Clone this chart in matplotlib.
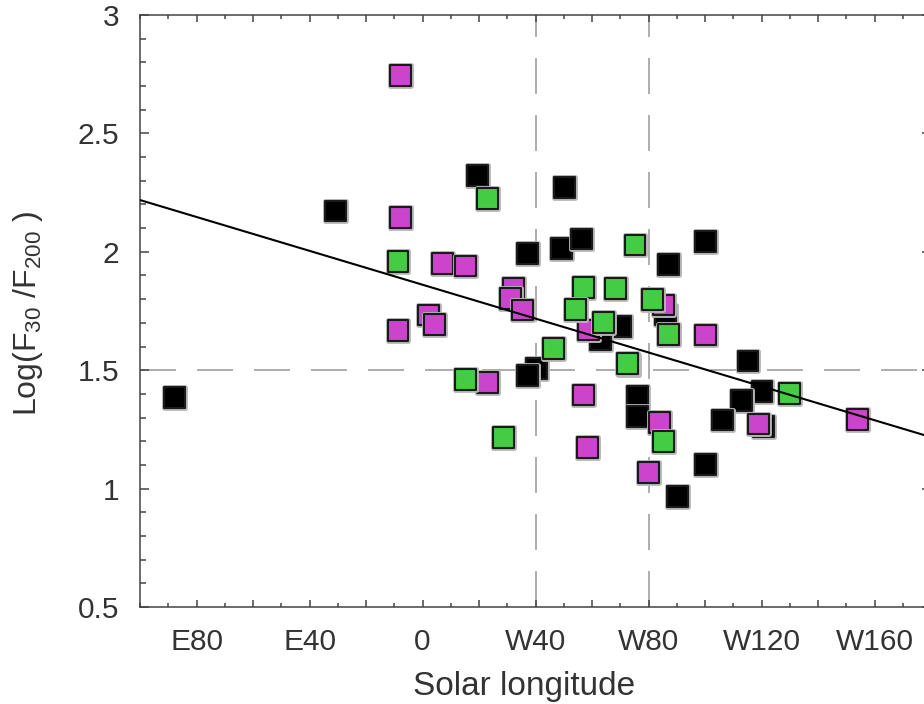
import matplotlib
matplotlib.use("Agg")
import matplotlib.pyplot as plt
import matplotlib.patheffects as pe
from matplotlib.ticker import FixedLocator, MultipleLocator, FixedFormatter

plt.rcParams["font.family"] = ["Liberation Sans", "DejaVu Sans"]
plt.rcParams["mathtext.fontset"] = "custom"
plt.rcParams["mathtext.rm"] = "Liberation Sans"
plt.rcParams["mathtext.it"] = "Liberation Sans"

# solar longitude (negative = East, positive = West), log(F30/F200)
black_lon = [-87.7, -30.8, 19.4, 50.3, 37.1, 49.1, 56.2, 100.2, 87.2, 86.0,
             70.1, 63.0, 40.4, 37.1, 72.9, 115.2, 120.2, 112.8, 76.0, 76.0,
             106.1, 120.8, 100.2, 90.2]
black_val = [1.384, 2.172, 2.321, 2.272, 1.994, 2.015, 2.054, 2.043, 1.947, 1.733,
             1.684, 1.628, 1.508, 1.477, 1.522, 1.539, 1.409, 1.372, 1.388, 1.304,
             1.290, 1.262, 1.103, 0.966]

magenta_lon = [-7.8, -7.8, 7.2, 15.2, 32.3, 31.2, 35.3, 2.2, 4.2, -8.7,
               23.1, 58.9, 85.4, 100.2, 57.1, 84.0, 119.0, 154.1, 58.3, 80.1]
magenta_val = [2.744, 2.146, 1.949, 1.940, 1.846, 1.804, 1.754, 1.733, 1.694, 1.667,
               1.447, 1.670, 1.775, 1.649, 1.395, 1.278, 1.273, 1.293, 1.173, 1.069]

green_lon = [-8.7, 23.1, 75.2, 57.1, 68.3, 54.2, 81.3, 87.2, 64.2, 46.5,
             72.5, 130.0, 15.2, 85.2, 28.7]
green_val = [1.958, 2.226, 2.029, 1.849, 1.846, 1.757, 1.800, 1.652, 1.701, 1.593,
             1.529, 1.400, 1.462, 1.198, 1.217]

# linear fit shown in the figure
fit_slope = -0.003576
fit_intercept = 1.861

x_ticks = [-80, -40, 0, 40, 80, 120, 160]
x_tick_labels = ["E80", "E40", "0", "W40", "W80", "W120", "W160"]
y_ticks = [0.5, 1, 1.5, 2, 2.5, 3]
y_tick_labels = ["0.5", "1", "1.5", "2", "2.5", "3"]

fig = plt.figure(figsize=(9.24, 7.04), dpi=100)
ax = fig.add_axes([140 / 924, 97 / 704, 791 / 924, 592 / 704])
ax.set_xlim(-100, 180)
ax.set_ylim(0.5, 3)

dash_kw = dict(color="#a0a0a0", lw=1.2, dashes=(21.6, 12.6), zorder=1)
ax.axhline(1.5, **dash_kw)
ax.axvline(40, **dash_kw)
ax.axvline(80, **dash_kw)

halo = [pe.withStroke(linewidth=3.5, foreground="#b8b8b8")]
for lon, val, col in [(black_lon, black_val, "black"),
                      (magenta_lon, magenta_val, "#cc44cc"),
                      (green_lon, green_val, "#44cc44")]:
    ax.scatter(lon, val, s=225, marker="s", facecolor=col, edgecolor="#1a1a1a",
               linewidth=1.5, zorder=3, path_effects=halo)

xs = [-100, 180]
ax.plot(xs, [fit_intercept + fit_slope * x for x in xs], color="black", lw=1.5,
        zorder=4)

# ticks: major every 20 deg (labelled every 40), minor every 10
major_x = list(range(-80, 181, 20))
ax.xaxis.set_major_locator(FixedLocator(major_x))
ax.xaxis.set_major_formatter(FixedFormatter(
    [x_tick_labels[x_ticks.index(x)] if x in x_ticks else "" for x in major_x]))
ax.xaxis.set_minor_locator(MultipleLocator(10))
ax.yaxis.set_major_locator(FixedLocator(y_ticks))
ax.yaxis.set_major_formatter(FixedFormatter(y_tick_labels))
ax.yaxis.set_minor_locator(MultipleLocator(0.1))

ax.tick_params(which="both", direction="in", top=True, right=True,
               color="#444444", width=1.1, labelsize=21.5, labelcolor="#333333")
ax.tick_params(axis="x", which="major", length=5, pad=15)
ax.tick_params(axis="x", which="minor", length=2.8)
ax.tick_params(axis="y", which="major", length=6.5, pad=15)
ax.tick_params(axis="y", which="minor", length=4)
for sp in ax.spines.values():
    sp.set_color("#444444")
    sp.set_linewidth(1.1)

fig.text(524 / 924, 1 - 686 / 704, "Solar longitude", ha="center", va="center",
         fontsize=24, color="#333333")
fig.text(28 / 924, 1 - 313 / 704, r"Log(F$_{30}$ /F$_{200}$ )", rotation=90,
         ha="center", va="center", fontsize=23, color="#333333")

fig.savefig("out.png", dpi=100)
